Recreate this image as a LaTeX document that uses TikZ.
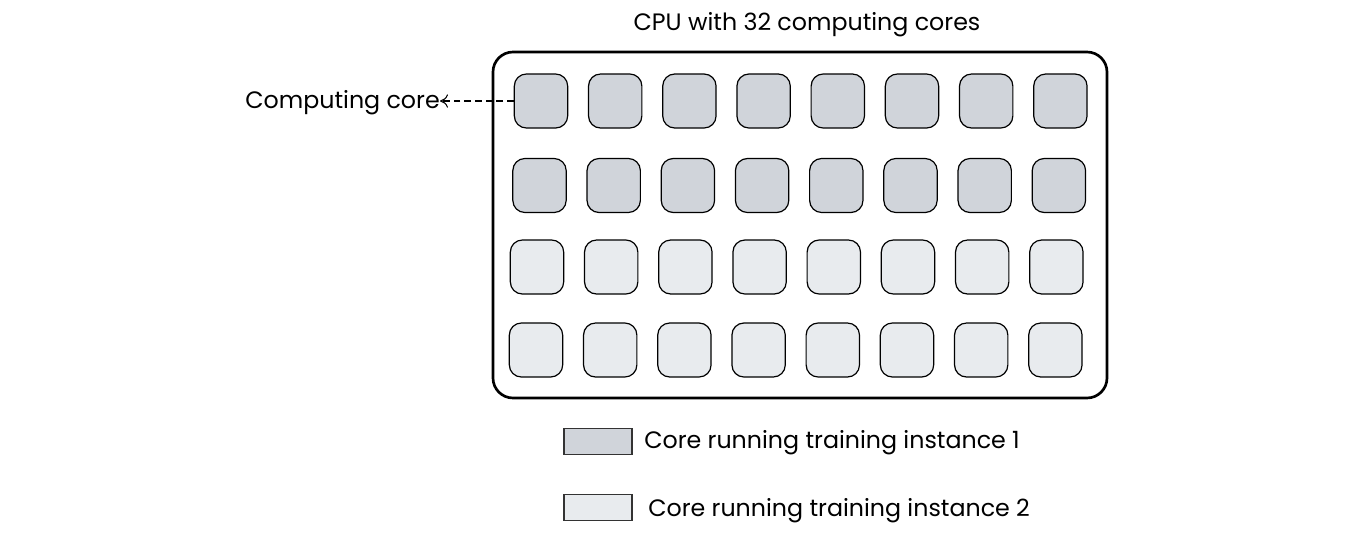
\documentclass[tikz,border=0pt]{standalone}
\usepackage{fontspec}
\setmainfont{Poppins}
\usetikzlibrary{arrows.meta}
\definecolor{coreA}{HTML}{D0D4DA}
\definecolor{coreB}{HTML}{E8EBEE}
\begin{document}
\begin{tikzpicture}[x=0.75pt,y=-0.75pt,
  core/.style={draw=black,line width=0.9pt,rounded corners=9pt,minimum width=40pt,minimum height=40.5pt,inner sep=0pt},
  legbox/.style={draw=black!80,line width=0.8pt,minimum width=51pt,minimum height=20pt,inner sep=0pt},
  lbl/.style={font=\fontsize{17.8}{22}\selectfont,inner sep=0pt}]
\useasboundingbox (0,0) rectangle (1360,533);
\node[lbl] (title) at (807,24.5) {CPU with 32 computing cores};
\draw[line width=2pt,rounded corners=15pt] (493,52) rectangle (1107,398);
\foreach \r/\x/\y/\c in {1/541/101/coreA,2/539.5/185.5/coreA,3/537/267/coreB,4/536/350/coreB}{
  \foreach \i in {0,...,7}{
    \node[core,fill=\c] (c\r\i) at ({\x+74.2*\i},\y) {};
  }
}
\node[lbl,anchor=east] (cclbl) at (440,103) {Computing core};
\draw[line width=0.8pt,dash pattern=on 5pt off 3pt,-{To[length=6pt,width=10pt]}] (c10.west) -- (cclbl.east |- c10.west);
\node[legbox,fill=coreA] (l1) at (598,441.5) {};
\node[lbl,anchor=west] (t1) at (644,442.5) {Core running training instance 1};
\node[legbox,fill=coreB] (l2) at (598,507.5) {};
\node[lbl,anchor=west] (t2) at (648,510.5) {Core running training instance 2};
\end{tikzpicture}
\end{document}
